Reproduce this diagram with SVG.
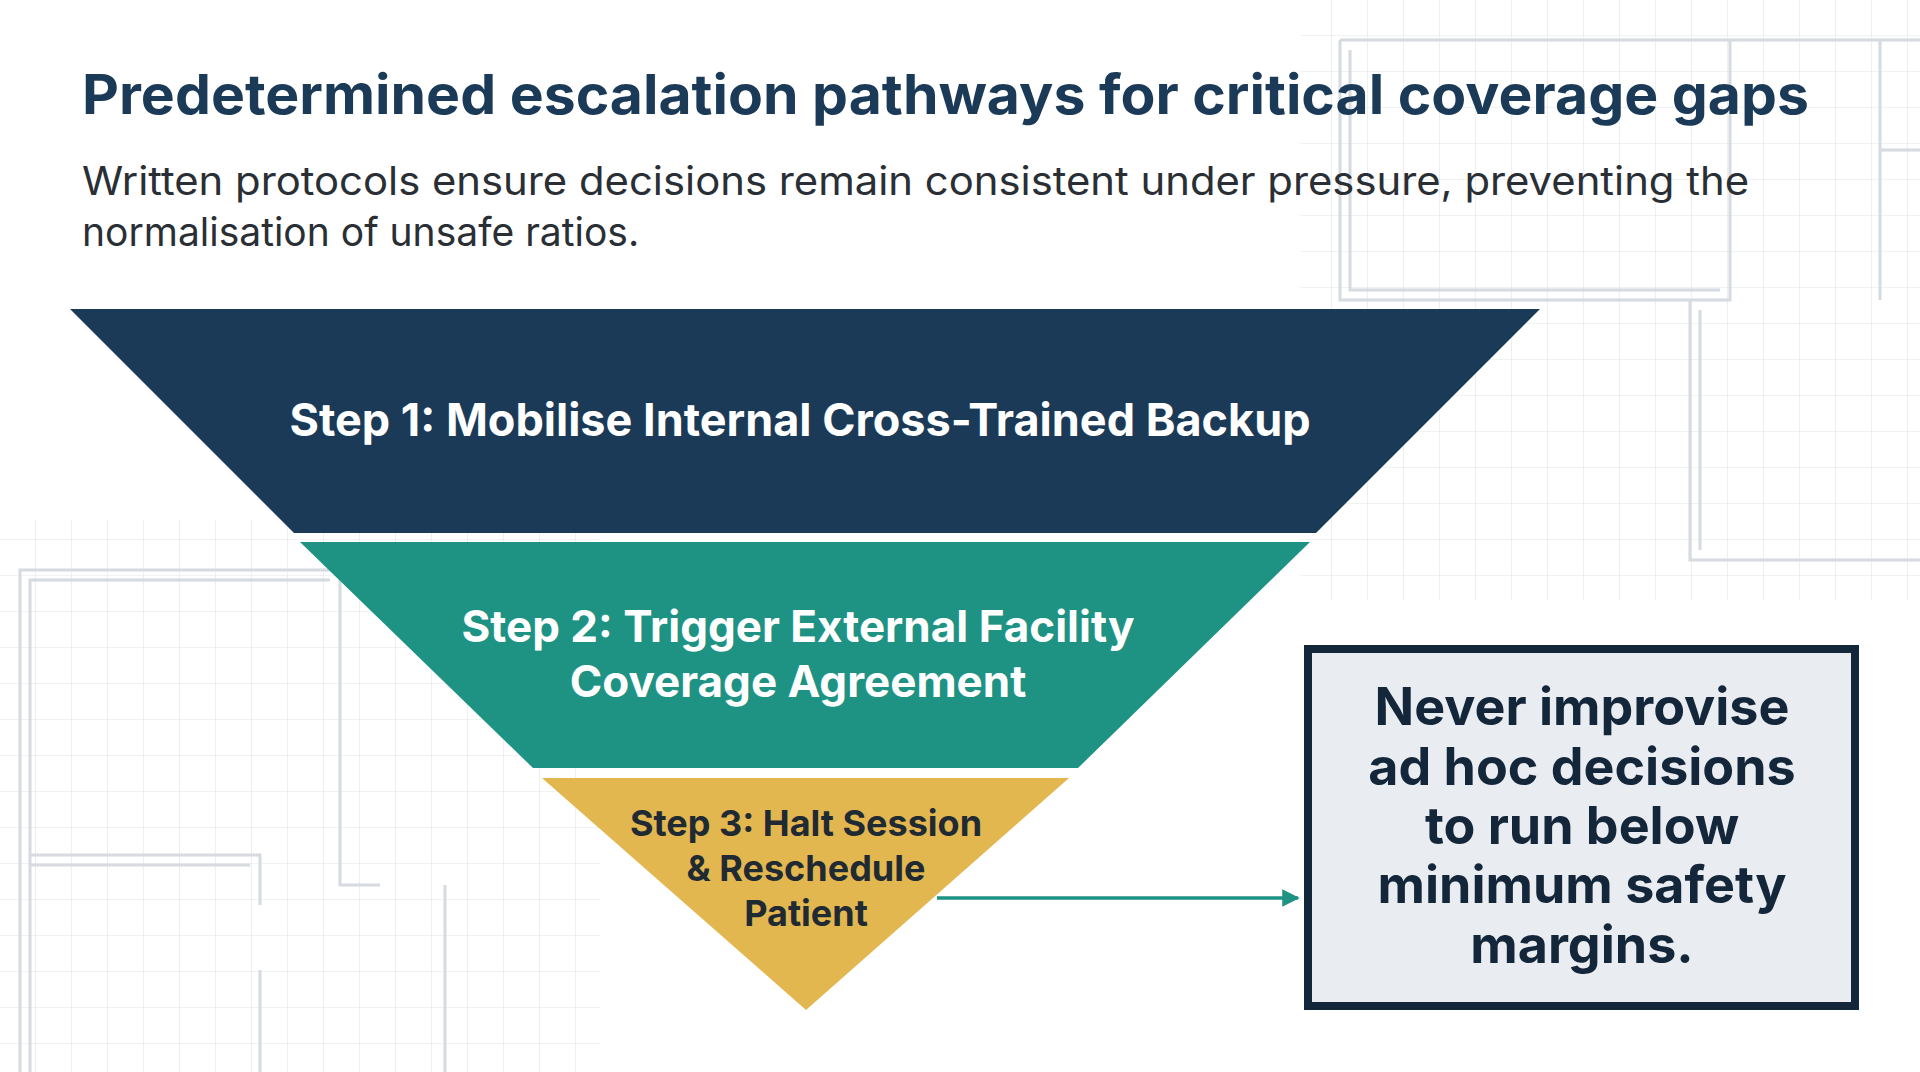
<svg xmlns="http://www.w3.org/2000/svg" width="1920" height="1072" viewBox="0 0 1920 1072">
<defs>
<style>
.grid{stroke:#d5dbe0;stroke-width:1.2;fill:none}
.wall{stroke:#c4ccd3;stroke-width:3;fill:none}
.step{font-family:Inter,"Liberation Sans",sans-serif;font-weight:700;text-anchor:middle}
</style>
<marker id="ah" viewBox="0 0 10 10" refX="9" refY="5" markerWidth="5" markerHeight="5" orient="auto"><path d="M0,0 L10,5 L0,10 z" fill="#1e9384"/></marker>
<pattern id="gp" width="36" height="36" patternUnits="userSpaceOnUse"><path d="M36 0 V36 M0 36 H36" class="grid"/></pattern>
</defs>
<rect width="1920" height="1072" fill="#ffffff"/>
<g id="background" opacity="0.7">
<rect x="1300" y="0" width="620" height="600" fill="url(#gp)"/>
<rect x="0" y="520" width="600" height="552" fill="url(#gp)"/>
<path class="wall" d="M1340 40 H1920 M1340 40 V300 H1730 V40 M1350 50 V290 H1720 M1690 300 V560 H1920 M1700 310 V550 M1880 40 V300 M1880 150 H1920"/>
<path class="wall" d="M20 1072 V570 H340 V885 H380 M30 1072 V580 H330 M30 855 H260 V905 M30 865 H250 M445 885 V1072 M260 970 V1072"/>
</g>
<g id="title">
<text x="82" y="114" font-family="Inter,'Liberation Sans',sans-serif" font-weight="700" font-size="55" fill="#1b3a57" textLength="1727" lengthAdjust="spacingAndGlyphs">Predetermined escalation pathways for critical coverage gaps</text>
<text font-family="Inter,'Liberation Sans',sans-serif" font-size="39" fill="#2a2f35"><tspan x="82" y="195" textLength="1667" lengthAdjust="spacingAndGlyphs">Written protocols ensure decisions remain consistent under pressure, preventing the</tspan><tspan x="82" y="246">normalisation of unsafe ratios.</tspan></text>
</g>
<g id="step1">
<polygon points="70,309 1540,309 1316,533 294,533" fill="#1b3a57"/>
<text class="step" x="800" y="436" font-size="45" fill="#ffffff">Step 1: Mobilise Internal Cross-Trained Backup</text>
</g>
<g id="step2">
<polygon points="300,542 1310,542 1078,768 533,768" fill="#1e9384"/>
<text class="step" font-size="44" fill="#ffffff"><tspan x="798" y="642">Step 2: Trigger External Facility</tspan><tspan x="798" y="697">Coverage Agreement</tspan></text>
</g>
<g id="step3">
<polygon points="542,778 1069,778 806,1010" fill="#e3b74f"/>
<text class="step" font-size="36" fill="#1f2a33"><tspan x="806" y="836">Step 3: Halt Session</tspan><tspan x="806" y="881">&amp; Reschedule</tspan><tspan x="806" y="926">Patient</tspan></text>
</g>
<g id="connectors">
<line x1="937" y1="898" x2="1298" y2="898" stroke="#1e9384" stroke-width="3.5" marker-end="url(#ah)"/>
</g>
<g id="note">
<rect x="1308" y="649" width="547" height="357" fill="#e9edf2" stroke="#14263a" stroke-width="8"/>
<text class="step" font-size="52" fill="#14263a"><tspan x="1582" y="725">Never improvise</tspan><tspan x="1582" y="785">ad hoc decisions</tspan><tspan x="1582" y="844">to run below</tspan><tspan x="1582" y="903">minimum safety</tspan><tspan x="1582" y="963">margins.</tspan></text>
</g>
</svg>
